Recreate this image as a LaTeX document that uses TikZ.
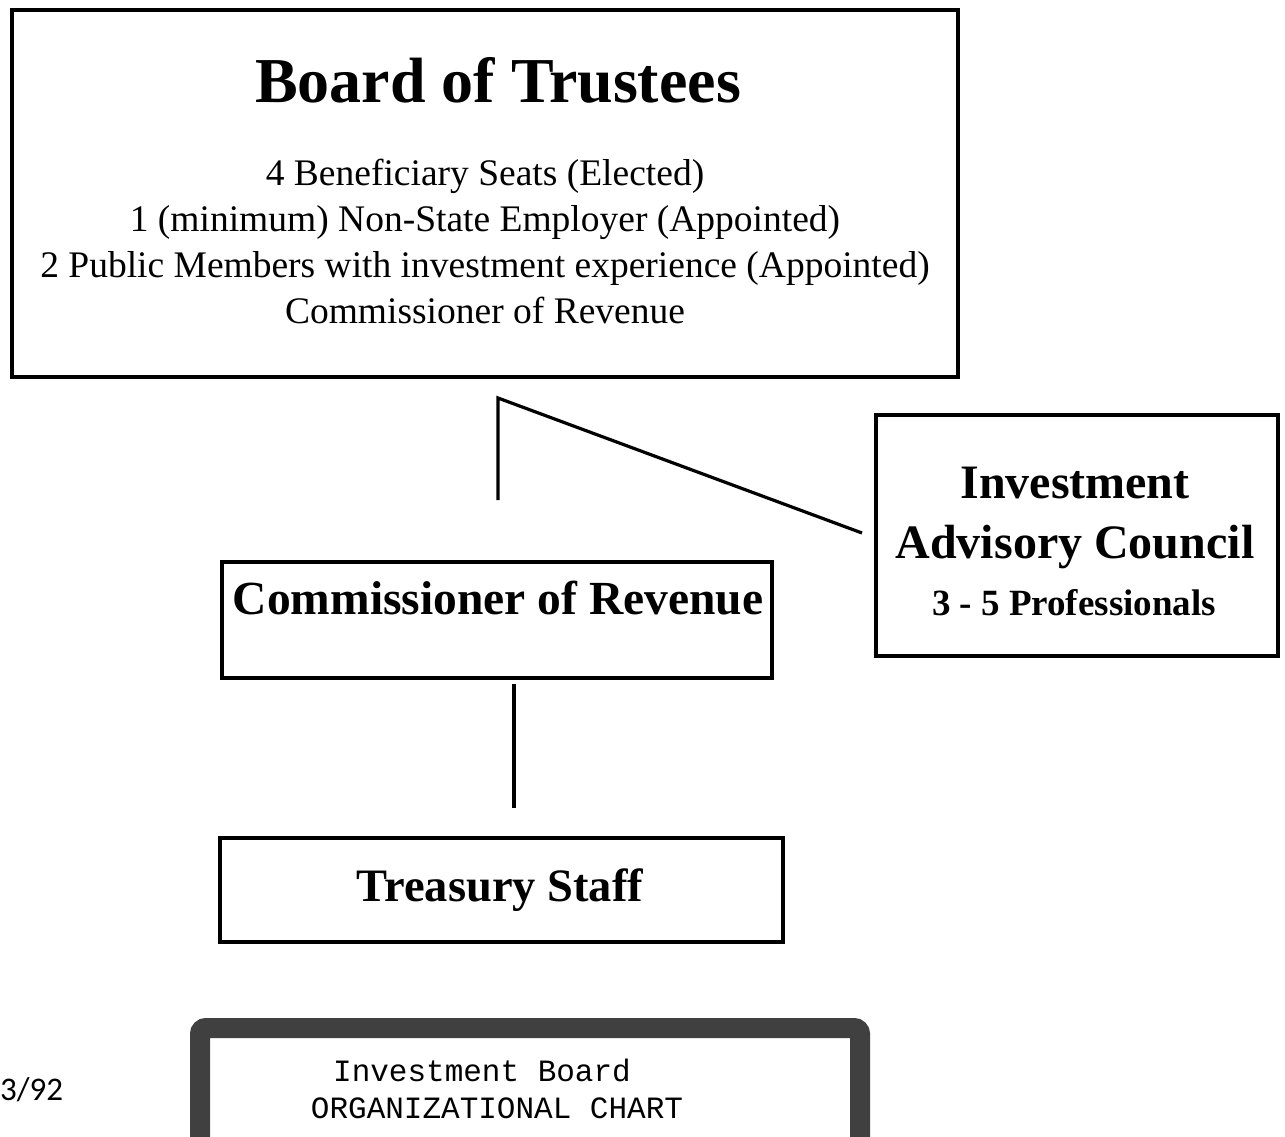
\documentclass[tikz,border=0pt]{standalone}
\usepackage{fontspec}
\setmainfont{Liberation Serif}
\newfontfamily\monof{Liberation Mono}
\newfontfamily\datef{Carlito}
\begin{document}
\begin{tikzpicture}[x=1pt,y=-1pt,
  box/.style={draw=black,line width=3.6pt,rectangle,inner sep=0pt},
  conn/.style={draw=black,line width=3.2pt},
  txt/.style={inner sep=0pt,anchor=center}]
\useasboundingbox (0,0) rectangle (1285,1136);
% Board of Trustees
\node[box,minimum width=946pt,minimum height=367pt] (board) at (485,193.5) {};
\node[txt,font=\fontsize{64}{70}\selectfont\bfseries] (bt) at (498,80) {Board of Trustees};
\node[txt,font=\fontsize{37.5}{46}\selectfont,align=center] (bl) at (485,241) {4 Beneficiary Seats (Elected)\\
1 (minimum) Non-State Employer (Appointed)\\
2 Public Members with investment experience (Appointed)\\
Commissioner of Revenue};
% connectors
\coordinate (j) at (498,398);
\coordinate (vend) at (498,500);
\coordinate (dend) at (862,533);
\draw[conn] (vend) -- (j) -- (dend);
% Commissioner
\node[box,minimum width=550pt,minimum height=116pt] (comm) at (497,620) {};
\node[txt,font=\fontsize{47.5}{50}\selectfont\bfseries] (ct) at (498,598) {Commissioner of Revenue};
% IAC
\node[box,minimum width=402pt,minimum height=241pt] (iac) at (1077,535.5) {};
\node[txt,font=\fontsize{48}{60}\selectfont\bfseries,align=center] (it) at (1075,518) {Investment\\Advisory Council};
\node[txt,font=\fontsize{37}{40}\selectfont\bfseries] (ip) at (1074,603) {3 - 5 Professionals};
% line to treasury
\coordinate (l1) at (514,684);
\coordinate (l2) at (514,808);
\draw[conn] (l1) -- (l2);
% Treasury
\node[box,minimum width=563pt,minimum height=104pt] (tre) at (501.5,890) {};
\node[txt,font=\fontsize{46.5}{50}\selectfont\bfseries] (tt) at (500,890) {Treasury Staff};
% bottom title box
\draw[draw=black!75,line width=20pt,rounded corners=6pt] (200,1028) rectangle (860,1160);
\node[txt,font=\monof\fontsize{31}{38}\selectfont] (m1) at (482,1070) {Investment Board};
\node[txt,font=\monof\fontsize{31}{38}\selectfont] (m2) at (497,1108) {ORGANIZATIONAL CHART};
\node[txt,font=\datef\fontsize{33}{36}\selectfont,anchor=west] (d) at (0,1090) {3/92};
\end{tikzpicture}
\end{document}
